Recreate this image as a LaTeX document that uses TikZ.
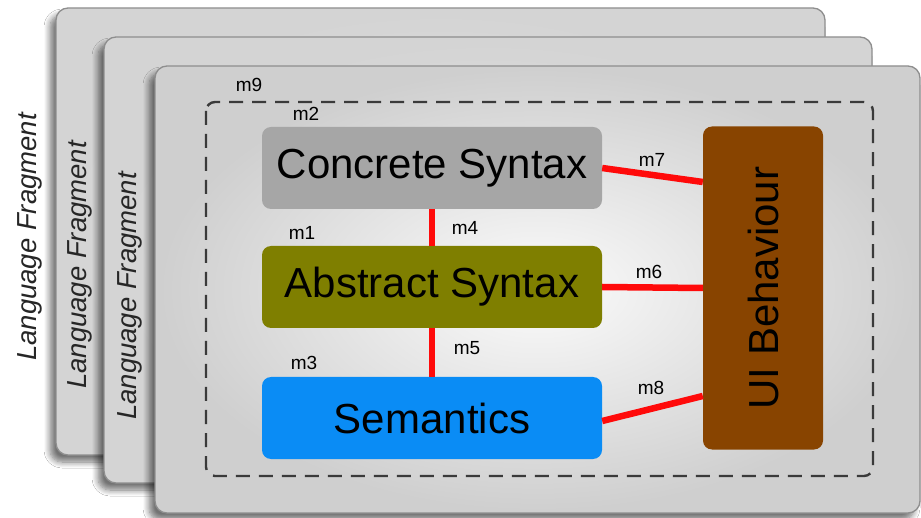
\documentclass[tikz,border=0pt]{standalone}
\usepackage{fontspec}
\setmainfont{Liberation Sans}
\usetikzlibrary{shadows.blur}
\definecolor{csgray}{HTML}{A6A6A6}
\definecolor{asolive}{HTML}{7F7F00}
\definecolor{semblue}{HTML}{0A8CF5}
\definecolor{uibrown}{HTML}{884400}
\definecolor{linkred}{HTML}{FF0A0A}
\definecolor{paneledge}{HTML}{8E8E8E}
\definecolor{dashgray}{HTML}{3A3A3A}
\begin{document}
\begin{tikzpicture}[x=1pt,y=-1pt,
  panel/.style={draw=paneledge, line width=1.3pt, rounded corners=12pt,
    blur shadow={shadow xshift=-6pt, shadow yshift=-7pt, shadow blur steps=8,
      shadow blur radius=6pt, shadow opacity=55}},
  backpanel/.style={panel, inner color=white!80!gray, outer color=white!66!gray},
  frontpanel/.style={panel, inner color=white!97!gray, outer color=white!62!gray},
  block/.style={rounded corners=9pt, inner sep=0pt, minimum width=340pt,
    minimum height=82pt, font=\fontsize{42}{48}\selectfont, text=black},
  mlabel/.style={font=\fontsize{19}{23}\selectfont, text=black, inner sep=0pt},
  fraglabel/.style={rotate=90, font=\fontsize{27.5}{31}\selectfont\itshape, text=black!85, inner sep=0pt},
  link/.style={draw=linkred, line width=6.5pt}]
\useasboundingbox[fill=white] (0,0) rectangle (921,518);
% stacked panels
\path[backpanel] (56,8) rectangle (825,455);
\node[fraglabel] (frag1) at (30,237) {Language Fragment};
\path[backpanel] (104,37) rectangle (872,483);
\node[fraglabel] (frag2) at (80,265) {Language Fragment};
\path[frontpanel] (155,66) rectangle (920,513);
\node[fraglabel] (frag3) at (130,296) {Language Fragment};
% dashed region
\draw[dashgray, line width=2.4pt, dash pattern=on 14pt off 9pt, rounded corners=9pt]
  (206,102) rectangle (873,476);
\node[mlabel] (m9) at (249,85) {m9};
% blocks
\node[block, fill=csgray] (cs) at (432,168) {Concrete Syntax};
\node[block, fill=asolive] (as) at (432,287) {Abstract Syntax};
\node[block, fill=semblue] (sem) at (432,418) {Semantics};
\node[rounded corners=9pt, fill=uibrown, minimum width=120pt, minimum height=323pt,
  inner sep=0pt] (ui) at (763,288) {};
\node[rotate=90, font=\fontsize{42}{48}\selectfont, text=black] (uitext) at (ui.center) {UI Behaviour};
% connectors
\draw[link] (cs.south) -- (as.north);
\draw[link] (as.south) -- (sem.north);
\draw[link] (cs.east) -- ([yshift=106pt]ui.west);
\draw[link] (as.east) -- (ui.west);
\draw[link] ([yshift=-3pt]sem.east) -- ([yshift=-108pt]ui.west);
% labels
\node[mlabel] (m2) at (306,114) {m2};
\node[mlabel] (m1) at (302,233) {m1};
\node[mlabel] (m4) at (465,228) {m4};
\node[mlabel] (m3) at (304,363) {m3};
\node[mlabel] (m5) at (467,348) {m5};
\node[mlabel] (m7) at (652,160) {m7};
\node[mlabel] (m6) at (649,272) {m6};
\node[mlabel] (m8) at (651,388) {m8};
\end{tikzpicture}
\end{document}
